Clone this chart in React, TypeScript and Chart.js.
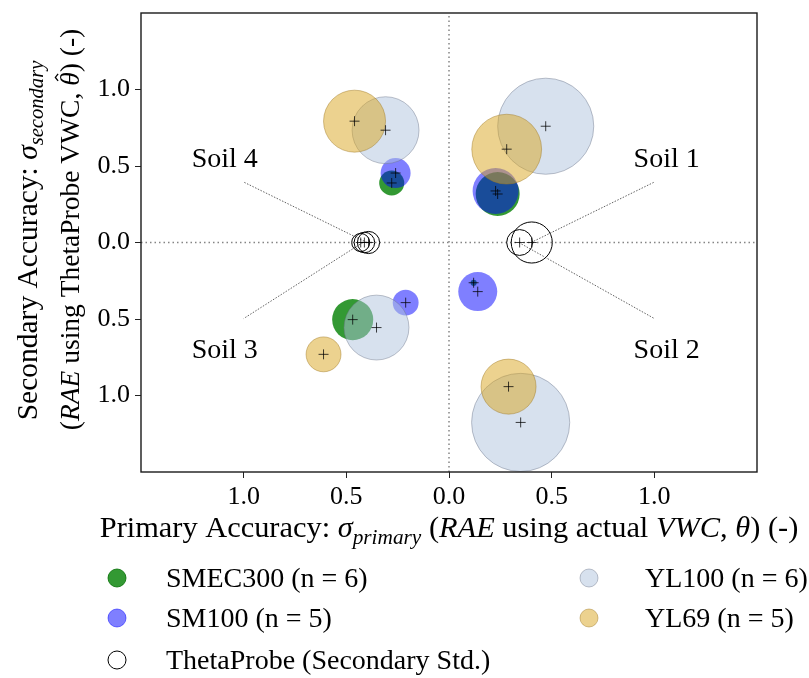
import React, { useEffect, useRef } from 'react';
import { Chart, registerables } from 'chart.js';

Chart.register(...registerables);

const FONT = '"Liberation Serif", "Times New Roman", serif';

// ---- axis ----
const axisMin = -1.5;
const axisMax = 1.5;
const tickValues = [-1, -0.5, 0, 0.5, 1];

// ---- series (x = primary accuracy, signed by soil quadrant; y = secondary accuracy; size = bubble radius in axis units) ----
const smec300X = [0.237, -0.279, -0.469, 0.120];
const smec300Y = [0.317, 0.389, -0.504, -0.263];
const smec300Size = [0.107, 0.061, 0.100, 0.015];

const sm100X = [0.227, -0.260, -0.211, 0.140];
const sm100Y = [0.337, 0.454, -0.393, -0.321];
const sm100Size = [0.112, 0.073, 0.063, 0.095];

const yl100X = [0.471, -0.309, -0.353, 0.349];
const yl100Y = [0.760, 0.734, -0.556, -1.176];
const yl100Size = [0.234, 0.163, 0.158, 0.239];

const yl69X = [0.281, -0.460, -0.611, 0.290];
const yl69Y = [0.610, 0.793, -0.731, -0.942];
const yl69Size = [0.170, 0.151, 0.085, 0.134];

const thetaX = [0.403, 0.344, -0.430, -0.412, -0.392];
const thetaY = [0, 0, 0, 0, 0];
const thetaSize = [0.100, 0.063, 0.044, 0.050, 0.054];

// ---- soil guide lines and labels ----
const soilNames = ['Soil 1', 'Soil 2', 'Soil 3', 'Soil 4'];
const soilLineFromX = [0.40, 0.34, -0.42, -0.40];
const soilLineFromY = [0, 0, 0, 0];
const soilLineToX = [1.0, 1.0, -1.0, -1.0];
const soilLineToY = [0.395, -0.497, -0.497, 0.395];
const soilLabelX = [1.06, 1.06, -1.092, -1.092];
const soilLabelY = [0.493, -0.757, -0.757, 0.493];

type Seg = { t: string; it?: boolean; sub?: boolean; hat?: boolean };

const xTitle: Seg[] = [
  { t: 'Primary Accuracy: ' },
  { t: 'σ', it: true },
  { t: 'primary', it: true, sub: true },
  { t: ' (' },
  { t: 'RAE', it: true },
  { t: ' using actual ' },
  { t: 'VWC', it: true },
  { t: ', ' },
  { t: 'θ', it: true },
  { t: ') (-)' },
];
const yTitle1: Seg[] = [
  { t: 'Secondary Accuracy: ' },
  { t: 'σ', it: true },
  { t: 'secondary', it: true, sub: true },
];
const yTitle2: Seg[] = [
  { t: '(' },
  { t: 'RAE', it: true },
  { t: ' using ThetaProbe VWC, ' },
  { t: 'θ', it: true, hat: true },
  { t: ') (-)' },
];

function fontFor(s: Seg, size: number) {
  return `${s.it ? 'italic ' : ''}${s.sub ? (size * 0.7).toFixed(1) : size}px ${FONT}`;
}

function drawRich(ctx: CanvasRenderingContext2D, segs: Seg[], size: number) {
  let total = 0;
  const widths = segs.map((s) => {
    ctx.font = fontFor(s, size);
    const w = ctx.measureText(s.t).width;
    total += w;
    return w;
  });
  let x = -total / 2;
  ctx.textAlign = 'left';
  ctx.textBaseline = 'alphabetic';
  segs.forEach((s, i) => {
    ctx.font = fontFor(s, size);
    ctx.fillText(s.t, x, s.sub ? size * 0.22 : 0);
    if (s.hat) {
      const cx = x + widths[i] / 2 + size * 0.06;
      const top = -size * 0.86;
      ctx.save();
      ctx.strokeStyle = '#000';
      ctx.lineWidth = 1.3;
      ctx.beginPath();
      ctx.moveTo(cx - size * 0.13, top + size * 0.1);
      ctx.lineTo(cx, top);
      ctx.lineTo(cx + size * 0.13, top + size * 0.1);
      ctx.stroke();
      ctx.restore();
    }
    x += widths[i];
  });
}

function pts(xs: number[], ys: number[], ss?: number[]) {
  return xs.map((x, i) => ({ x, y: ys[i], s: ss ? ss[i] : 0 }));
}

const sizeRadius = (ctx: any) => {
  const chart = ctx.chart;
  const sx = chart.scales?.x;
  if (!sx || !ctx.raw) return 0;
  const ppu = sx.getPixelForValue(1) - sx.getPixelForValue(0);
  return Math.max(0.5, ctx.raw.s * ppu);
};

const decorPlugin = {
  id: 'decor',
  afterDraw(chart: any) {
    const { ctx, chartArea, scales } = chart;
    const sx = scales.x;
    const sy = scales.y;
    ctx.save();
    // frame
    ctx.strokeStyle = '#1a1a1a';
    ctx.lineWidth = 1.4;
    ctx.strokeRect(chartArea.left, chartArea.top, chartArea.right - chartArea.left, chartArea.bottom - chartArea.top);

    // soil labels
    ctx.fillStyle = '#000';
    ctx.font = `28px ${FONT}`;
    ctx.textAlign = 'center';
    ctx.textBaseline = 'alphabetic';
    soilNames.forEach((n, i) => {
      ctx.fillText(n, sx.getPixelForValue(soilLabelX[i]), sy.getPixelForValue(soilLabelY[i]));
    });

    // x title
    const cx = (chartArea.left + chartArea.right) / 2;
    ctx.save();
    ctx.translate(cx, 537);
    drawRich(ctx, xTitle, 30.4);
    ctx.restore();

    // y titles
    const cy = (chartArea.top + chartArea.bottom) / 2;
    ctx.save();
    ctx.translate(37, cy - 2);
    ctx.rotate(-Math.PI / 2);
    drawRich(ctx, yTitle1, 29.5);
    ctx.restore();
    ctx.save();
    ctx.translate(79, cy - 13);
    ctx.rotate(-Math.PI / 2);
    drawRich(ctx, yTitle2, 27.5);
    ctx.restore();

    // legend (two columns, column-major like the reference)
    const legendIdx = [0, 1, 4, 2, 3];
    const slots = [
      { mx: 117, tx: 166, y: 578 },
      { mx: 117, tx: 166, y: 618 },
      { mx: 117, tx: 166, y: 660 },
      { mx: 589, tx: 645, y: 578 },
      { mx: 589, tx: 645, y: 618 },
    ];
    legendIdx.forEach((di, k) => {
      const ds = chart.data.datasets[di];
      const slot = slots[k];
      ctx.beginPath();
      ctx.arc(slot.mx, slot.y, 9, 0, Math.PI * 2);
      ctx.fillStyle = '#fff';
      ctx.fill();
      ctx.fillStyle = ds.backgroundColor;
      ctx.fill();
      ctx.lineWidth = 1;
      ctx.strokeStyle = ds.legendEdge;
      ctx.stroke();
      ctx.fillStyle = '#000';
      ctx.font = `28px ${FONT}`;
      ctx.textAlign = 'left';
      ctx.textBaseline = 'alphabetic';
      ctx.fillText(ds.label, slot.tx, slot.y + 9);
    });
    ctx.restore();
  },
};

export default function App() {
  const ref = useRef<HTMLCanvasElement | null>(null);

  useEffect(() => {
    document.body.style.margin = '0';
    const canvas = ref.current;
    if (!canvas) return;

    const allX = [...smec300X, ...sm100X, ...yl100X, ...yl69X, ...thetaX];
    const allY = [...smec300Y, ...sm100Y, ...yl100Y, ...yl69Y, ...thetaY];

    const lineSets = soilNames.map((n, i) => ({
      label: n + ' guide',
      data: [
        { x: soilLineFromX[i], y: soilLineFromY[i] },
        { x: soilLineToX[i], y: soilLineToY[i] },
      ],
      showLine: true,
      borderColor: 'rgba(70,70,70,0.85)',
      borderWidth: 1,
      borderDash: [1.5, 1.5],
      pointRadius: 0,
      order: 8,
    }));

    const chart = new Chart(canvas, {
      type: 'scatter',
      data: {
        datasets: [
          {
            label: 'SMEC300 (n = 6)',
            data: pts(smec300X, smec300Y, smec300Size),
            backgroundColor: 'rgba(0,128,0,0.8)',
            borderColor: 'rgba(0,110,0,0.8)',
            borderWidth: 0,
            pointRadius: sizeRadius,
            order: 6,
            legendEdge: 'rgba(0,110,0,0.8)',
          } as any,
          {
            label: 'SM100 (n = 5)',
            data: pts(sm100X, sm100Y, sm100Size),
            backgroundColor: 'rgba(0,0,255,0.5)',
            borderColor: 'rgba(0,0,255,0.5)',
            borderWidth: 0,
            pointRadius: sizeRadius,
            order: 5,
            legendEdge: 'rgba(0,0,255,0.5)',
          } as any,
          {
            label: 'YL100 (n = 6)',
            data: pts(yl100X, yl100Y, yl100Size),
            backgroundColor: 'rgba(176,196,222,0.5)',
            borderColor: 'rgba(110,120,140,0.45)',
            borderWidth: 1,
            pointRadius: sizeRadius,
            order: 4,
            legendEdge: 'rgba(110,120,140,0.45)',
          } as any,
          {
            label: 'YL69 (n = 5)',
            data: pts(yl69X, yl69Y, yl69Size),
            backgroundColor: 'rgba(218,165,32,0.5)',
            borderColor: 'rgba(160,120,30,0.45)',
            borderWidth: 1,
            pointRadius: sizeRadius,
            order: 3,
            legendEdge: 'rgba(160,120,30,0.45)',
          } as any,
          {
            label: 'ThetaProbe (Secondary Std.)',
            data: pts(thetaX, thetaY, thetaSize),
            backgroundColor: 'rgba(255,255,255,0)',
            borderColor: '#000',
            borderWidth: 1,
            pointRadius: sizeRadius,
            order: 2,
            legendEdge: '#000',
          } as any,
          {
            label: 'centres',
            data: pts(allX, allY),
            pointStyle: 'cross',
            pointRadius: 5,
            borderColor: 'rgba(0,0,0,0.75)',
            borderWidth: 1,
            order: 1,
          } as any,
          {
            label: 'x zero',
            data: [
              { x: axisMin, y: 0 },
              { x: axisMax, y: 0 },
            ],
            showLine: true,
            borderColor: 'rgba(120,120,120,0.9)',
            borderWidth: 1.5,
            borderDash: [1.5, 3],
            pointRadius: 0,
            order: 9,
          } as any,
          {
            label: 'y zero',
            data: [
              { x: 0, y: axisMin },
              { x: 0, y: axisMax },
            ],
            showLine: true,
            borderColor: 'rgba(120,120,120,0.9)',
            borderWidth: 1.5,
            borderDash: [1.5, 3],
            pointRadius: 0,
            order: 9,
          } as any,
          ...(lineSets as any[]),
        ],
      },
      options: {
        responsive: false,
        animation: false,
        events: [],
        layout: { padding: { left: 0, right: 52, top: 13, bottom: 0 } },
        plugins: {
          legend: { display: false },
          tooltip: { enabled: false },
        },
        scales: {
          x: {
            type: 'linear',
            min: axisMin,
            max: axisMax,
            afterBuildTicks: (s: any) => {
              s.ticks = tickValues.map((v) => ({ value: v }));
            },
            afterFit: (s: any) => {
              s.height = 206;
              s.paddingLeft = 0;
              s.paddingRight = 0;
            },
            grid: { drawOnChartArea: false, drawTicks: true, tickLength: 6, color: '#222' },
            border: { display: false },
            ticks: {
              font: { family: FONT, size: 26 },
              color: '#000',
              padding: 4,
              maxRotation: 0,
              autoSkip: false,
              callback: (v: any) => Math.abs(Number(v)).toFixed(1),
            },
          },
          y: {
            type: 'linear',
            min: axisMin,
            max: axisMax,
            afterBuildTicks: (s: any) => {
              s.ticks = tickValues.map((v) => ({ value: v }));
            },
            afterFit: (s: any) => {
              s.width = 141;
              s.paddingTop = 0;
              s.paddingBottom = 0;
            },
            grid: { drawOnChartArea: false, drawTicks: true, tickLength: 6, color: '#222' },
            border: { display: false },
            ticks: {
              font: { family: FONT, size: 26 },
              color: '#000',
              padding: 5,
              autoSkip: false,
              callback: (v: any) => Math.abs(Number(v)).toFixed(1),
            },
          },
        },
      },
      plugins: [decorPlugin],
    });

    return () => chart.destroy();
  }, []);

  return (
    <div style={{ width: 809, height: 678 }}>
      <canvas ref={ref} width={809} height={678} style={{ display: 'block' }} />
    </div>
  );
}
